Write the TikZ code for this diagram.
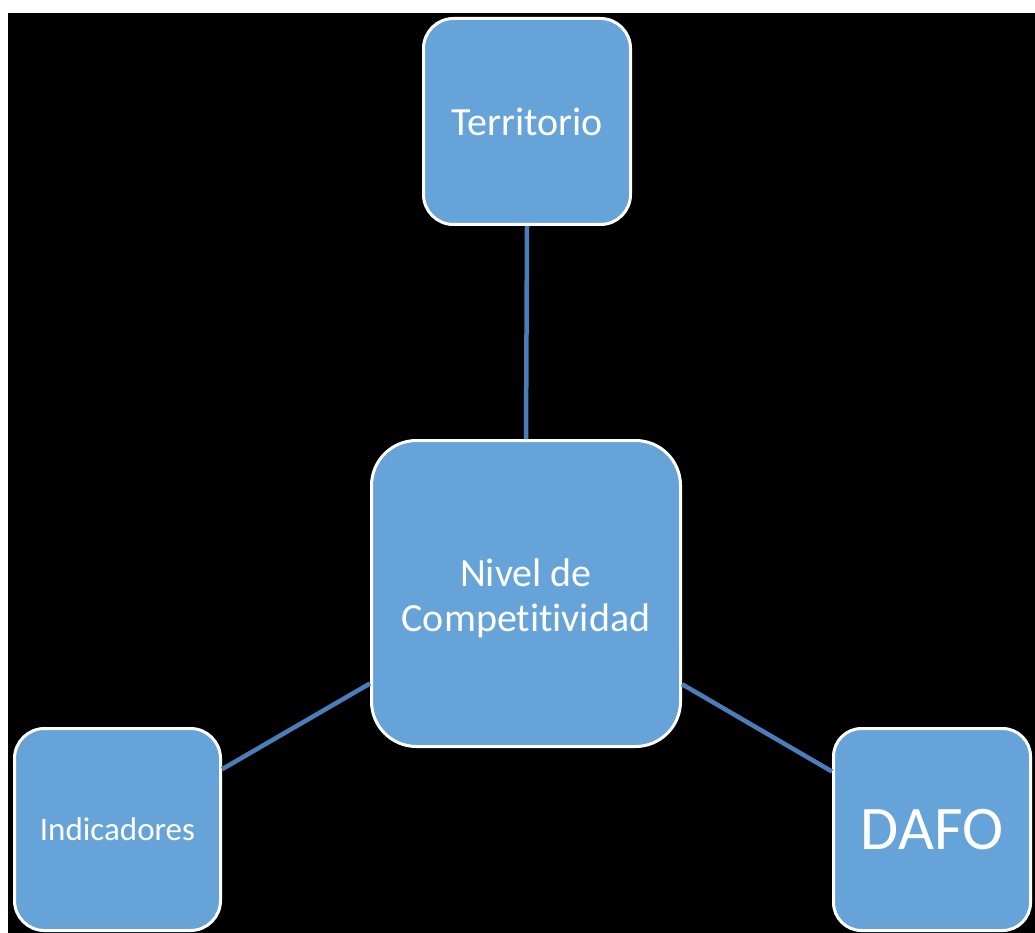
\documentclass[tikz,border=0pt]{standalone}
\usepackage{fontspec}
\setmainfont[Ligatures=NoCommon]{Carlito}
\definecolor{boxfill}{HTML}{66A3D8}
\definecolor{linkblue}{HTML}{4A7EBB}
\begin{document}
\begin{tikzpicture}[x=1pt,y=-1pt,
  card/.style={draw=white, line width=3pt, fill=boxfill, text=white,
    inner sep=0pt, align=center, font=\fontsize{40}{45}\selectfont},
  cardtext/.style={text=white, inner sep=0pt, align=center,
    font=\fontsize{40}{45}\selectfont},
  link/.style={draw=linkblue, line width=4.5pt}]
  % canvas
  \fill[white] (0,0) rectangle (1035,933);
  \useasboundingbox (0,0) rectangle (1035,933);
  \fill[black] (8,13) rectangle (1035,933);

  % boxes
  \node[card, minimum width=207pt, minimum height=206pt, rounded corners=30pt]
    (terr) at (527,121.5) {Territorio};
  \node[card, minimum width=309pt, minimum height=306pt, rounded corners=45pt]
    (nivel) at (526,593.5) {};
  \node[cardtext] (niveltext) at ([yshift=-5pt]nivel.center)
    {Nivel de\\Competitividad};
  \node[card, minimum width=206pt, minimum height=202pt, rounded corners=30pt,
    font=\fontsize{33}{38}\selectfont]
    (ind) at (117.5,829.5) {Indicadores};
  \node[card, minimum width=197pt, minimum height=202pt, rounded corners=28pt,
    font=\fontsize{62}{70}\selectfont]
    (dafo) at (932,829.5) {DAFO};

  % connectors
  \draw[link] (terr.south) -- (nivel.north);
  \draw[link] (nivel) -- (ind);
  \draw[link] (nivel) -- (dafo);
\end{tikzpicture}
\end{document}
